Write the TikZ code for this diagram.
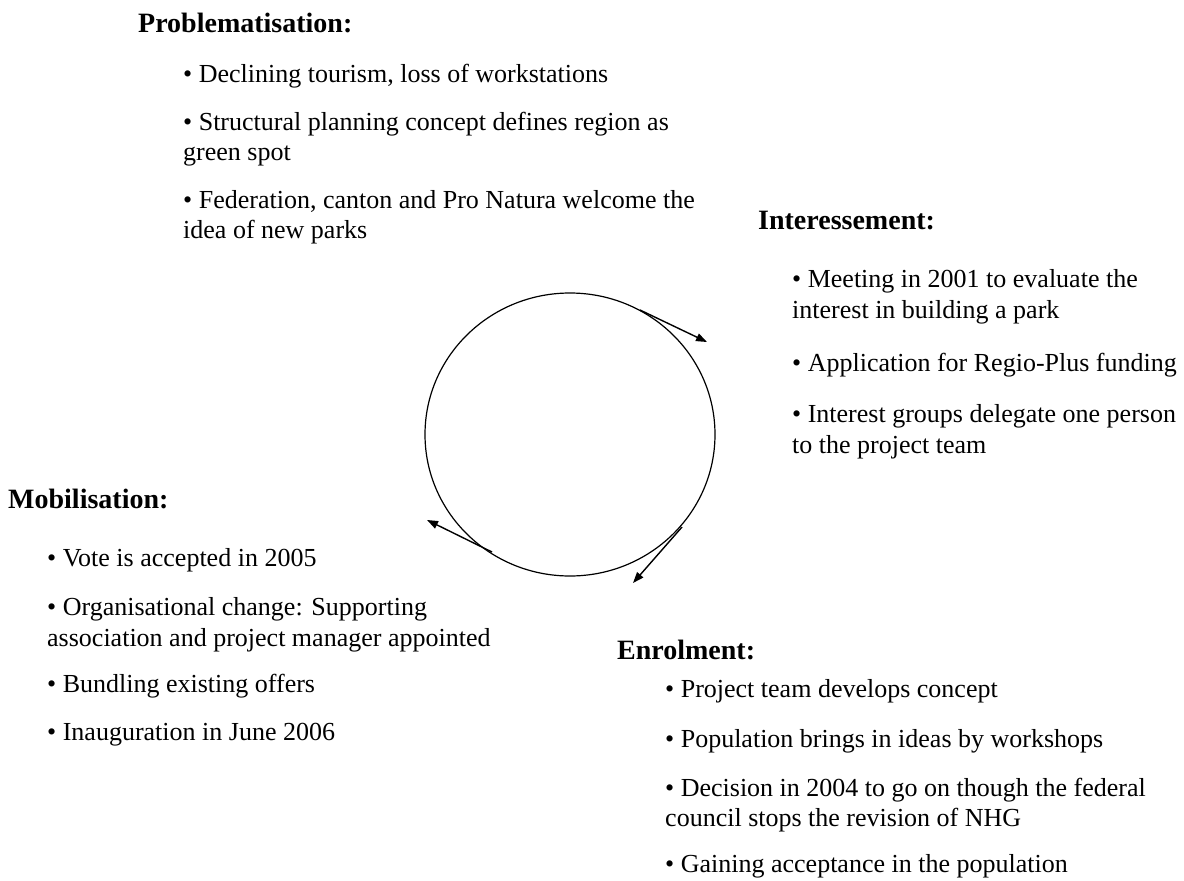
\documentclass[tikz,border=0pt]{standalone}
\usepackage{fontspec}
\setmainfont{Liberation Serif}
\usetikzlibrary{arrows.meta}
\begin{document}
\begin{tikzpicture}[x=1pt,y=-1pt,
  txt/.style={anchor=base west,inner sep=0pt,font=\fontsize{26}{30}\selectfont},
  head/.style={txt,font=\fontsize{28}{32}\selectfont\bfseries},
  flow/.style={line width=1.4pt,-{Triangle[length=11pt,width=8pt]}}]
\useasboundingbox (0,0) rectangle (1184,881);

% cycle
\draw[line width=1.2pt] (570,434.5) ellipse [x radius=145, y radius=141.5];
\coordinate (s1) at (640,310);  \coordinate (t1) at (707,342);
\coordinate (s2) at (682,527);  \coordinate (t2) at (633,583);
\coordinate (s3) at (492,552);  \coordinate (t3) at (427,520);
\draw[flow] (s1) -- (t1);
\draw[flow] (s2) -- (t2);
\draw[flow] (s3) -- (t3);

% Problematisation
\node[head] (ph) at (138,32) {Problematisation:};
\node[txt] (p1) at (183,82) {• Declining tourism, loss of workstations};
\node[txt] (p2) at (183,130) {• Structural planning concept defines region as};
\node[txt] (p2b) at (183,160) {green spot};
\node[txt] (p3) at (183,208) {• Federation, canton and Pro Natura welcome the};
\node[txt] (p3b) at (183,238) {idea of new parks};

% Interessement
\node[head] (ih) at (758,229) {Interessement:};
\node[txt] (i1) at (792,287) {• Meeting in 2001 to evaluate the};
\node[txt] (i1b) at (792,318) {interest in building a park};
\node[txt] (i2) at (792,371) {• Application for Regio-Plus funding};
\node[txt] (i3) at (792,422) {• Interest groups delegate one person};
\node[txt] (i3b) at (792,453) {to the project team};

% Mobilisation
\node[head] (mh) at (8,508) {Mobilisation:};
\node[txt] (m1) at (47,566) {• Vote is accepted in 2005};
\node[txt] (m2) at (47,615) {• Organisational change: Supporting};
\node[txt] (m2b) at (47,646) {association and project manager appointed};
\node[txt] (m3) at (47,692) {• Bundling existing offers};
\node[txt] (m4) at (47,740) {• Inauguration in June 2006};

% Enrolment
\node[head] (eh) at (617,659) {Enrolment:};
\node[txt] (e1) at (665,697) {• Project team develops concept};
\node[txt] (e2) at (665,747) {• Population brings in ideas by workshops};
\node[txt] (e3) at (665,796) {• Decision in 2004 to go on though the federal};
\node[txt] (e3b) at (665,826) {council stops the revision of NHG};
\node[txt] (e4) at (665,872) {• Gaining acceptance in the population};
\end{tikzpicture}
\end{document}
